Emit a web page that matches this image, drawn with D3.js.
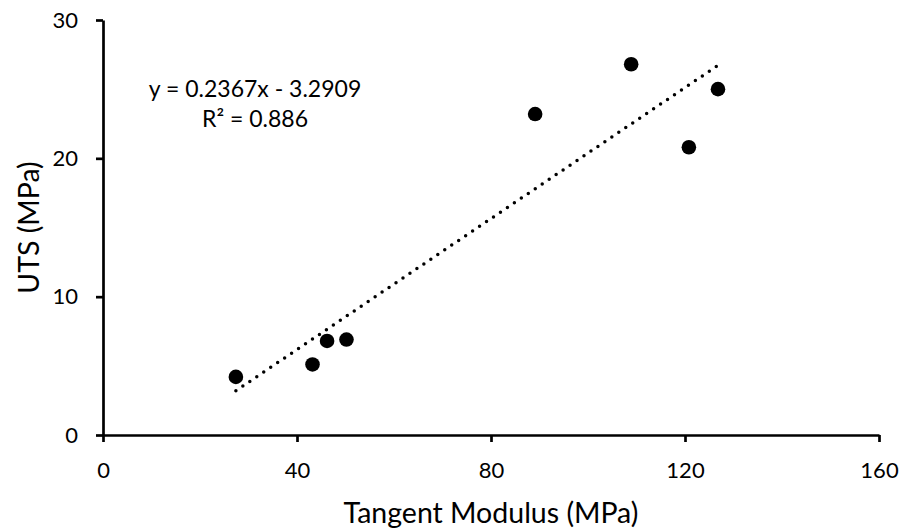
<!DOCTYPE html>
<html>
<head>
<meta charset="utf-8">
<script src="https://cdn.jsdelivr.net/npm/d3@7"></script>
<style>
  html, body { margin: 0; padding: 0; background: #fff; }
  svg { display: block; font-family: Lato, 'Open Sans', Arial, sans-serif; }
</style>
</head>
<body>
<div id="chart"></div>
<script>
// ---- DATA ----
const modulus = [27.4, 43.2, 46.2, 50.2, 89.1, 108.9, 120.8, 126.8];
const uts = [4.2, 5.1, 6.8, 6.9, 23.2, 26.8, 20.8, 25.0];
const xTicks = [0, 40, 80, 120, 160];
const yTicks = [0, 10, 20, 30];
const fitSlope = 0.2367;
const fitIntercept = -3.2909;
const fitR2 = 0.886;

const points = modulus.map((m, i) => ({ x: m, y: uts[i] }));

const svgW = 903, svgH = 531;
const margin = { top: 20, right: 24, bottom: 96, left: 103 };
const w = svgW - margin.left - margin.right;
const h = svgH - margin.top - margin.bottom;

const svg = d3.select('#chart').append('svg')
  .attr('width', svgW).attr('height', svgH);

const g = svg.append('g')
  .attr('transform', `translate(${margin.left}, ${margin.top})`);

const xScale = d3.scaleLinear().domain([0, 160]).range([0, w]);
const yScale = d3.scaleLinear().domain([0, 30]).range([h, 0]);

// ---- TRENDLINE (dotted) ----
const xExt = d3.extent(modulus);
const fit = xExt.map(x => ({ x, y: fitSlope * x + fitIntercept }));
g.append('path')
  .datum(fit)
  .attr('d', d3.line().x(d => xScale(d.x)).y(d => yScale(d.y)))
  .attr('fill', 'none')
  .attr('stroke', '#000')
  .attr('stroke-width', 3.5)
  .attr('stroke-linecap', 'round')
  .attr('stroke-dasharray', '0,8.4');

// ---- POINTS ----
g.selectAll('.pt').data(points).join('circle')
  .attr('class', 'pt')
  .attr('cx', d => xScale(d.x))
  .attr('cy', d => yScale(d.y))
  .attr('r', 7.3)
  .attr('fill', '#000');

// ---- X AXIS ----
g.append('g')
  .attr('transform', `translate(0, ${h})`)
  .call(d3.axisBottom(xScale).tickValues(xTicks).tickSize(7).tickPadding(20).tickSizeOuter(0))
  .call(a => a.select('.domain').attr('stroke', '#000').attr('stroke-width', 2.7))
  .call(a => a.selectAll('line').attr('stroke', '#000').attr('stroke-width', 2.7))
  .call(a => a.selectAll('text')
    .style('font-family', 'Lato, sans-serif')
    .style('font-size', '22px')
    .style('fill', '#000'));

// ---- Y AXIS ----
g.append('g')
  .call(d3.axisLeft(yScale).tickValues(yTicks).tickSize(7).tickPadding(18).tickSizeOuter(0))
  .call(a => a.select('.domain').attr('stroke', '#000').attr('stroke-width', 2.7))
  .call(a => a.selectAll('line').attr('stroke', '#000').attr('stroke-width', 2.7))
  .call(a => a.selectAll('text')
    .style('font-family', 'Lato, sans-serif')
    .style('font-size', '22px')
    .style('fill', '#000'));

// ---- AXIS TITLES ----
g.append('text')
  .attr('x', w / 2)
  .attr('y', h + 88)
  .attr('text-anchor', 'middle')
  .style('font-size', '28.5px')
  .style('fill', '#000')
  .text('Tangent Modulus (MPa)');

g.append('text')
  .attr('transform', 'rotate(-90)')
  .attr('x', -h / 2)
  .attr('y', -margin.left + 39)
  .attr('text-anchor', 'middle')
  .style('font-size', '28.5px')
  .style('fill', '#000')
  .text('UTS (MPa)');

// ---- TRENDLINE LABEL ----
const eq = g.append('text')
  .attr('text-anchor', 'middle')
  .style('font-size', '23px')
  .style('fill', '#000');
eq.append('tspan')
  .attr('x', 255 - margin.left).attr('y', 97 - margin.top)
  .text(`y = ${fitSlope}x - ${Math.abs(fitIntercept)}`);
eq.append('tspan')
  .attr('x', 255 - margin.left).attr('y', 127 - margin.top)
  .text(`R² = ${fitR2}`);
</script>
</body>
</html>
